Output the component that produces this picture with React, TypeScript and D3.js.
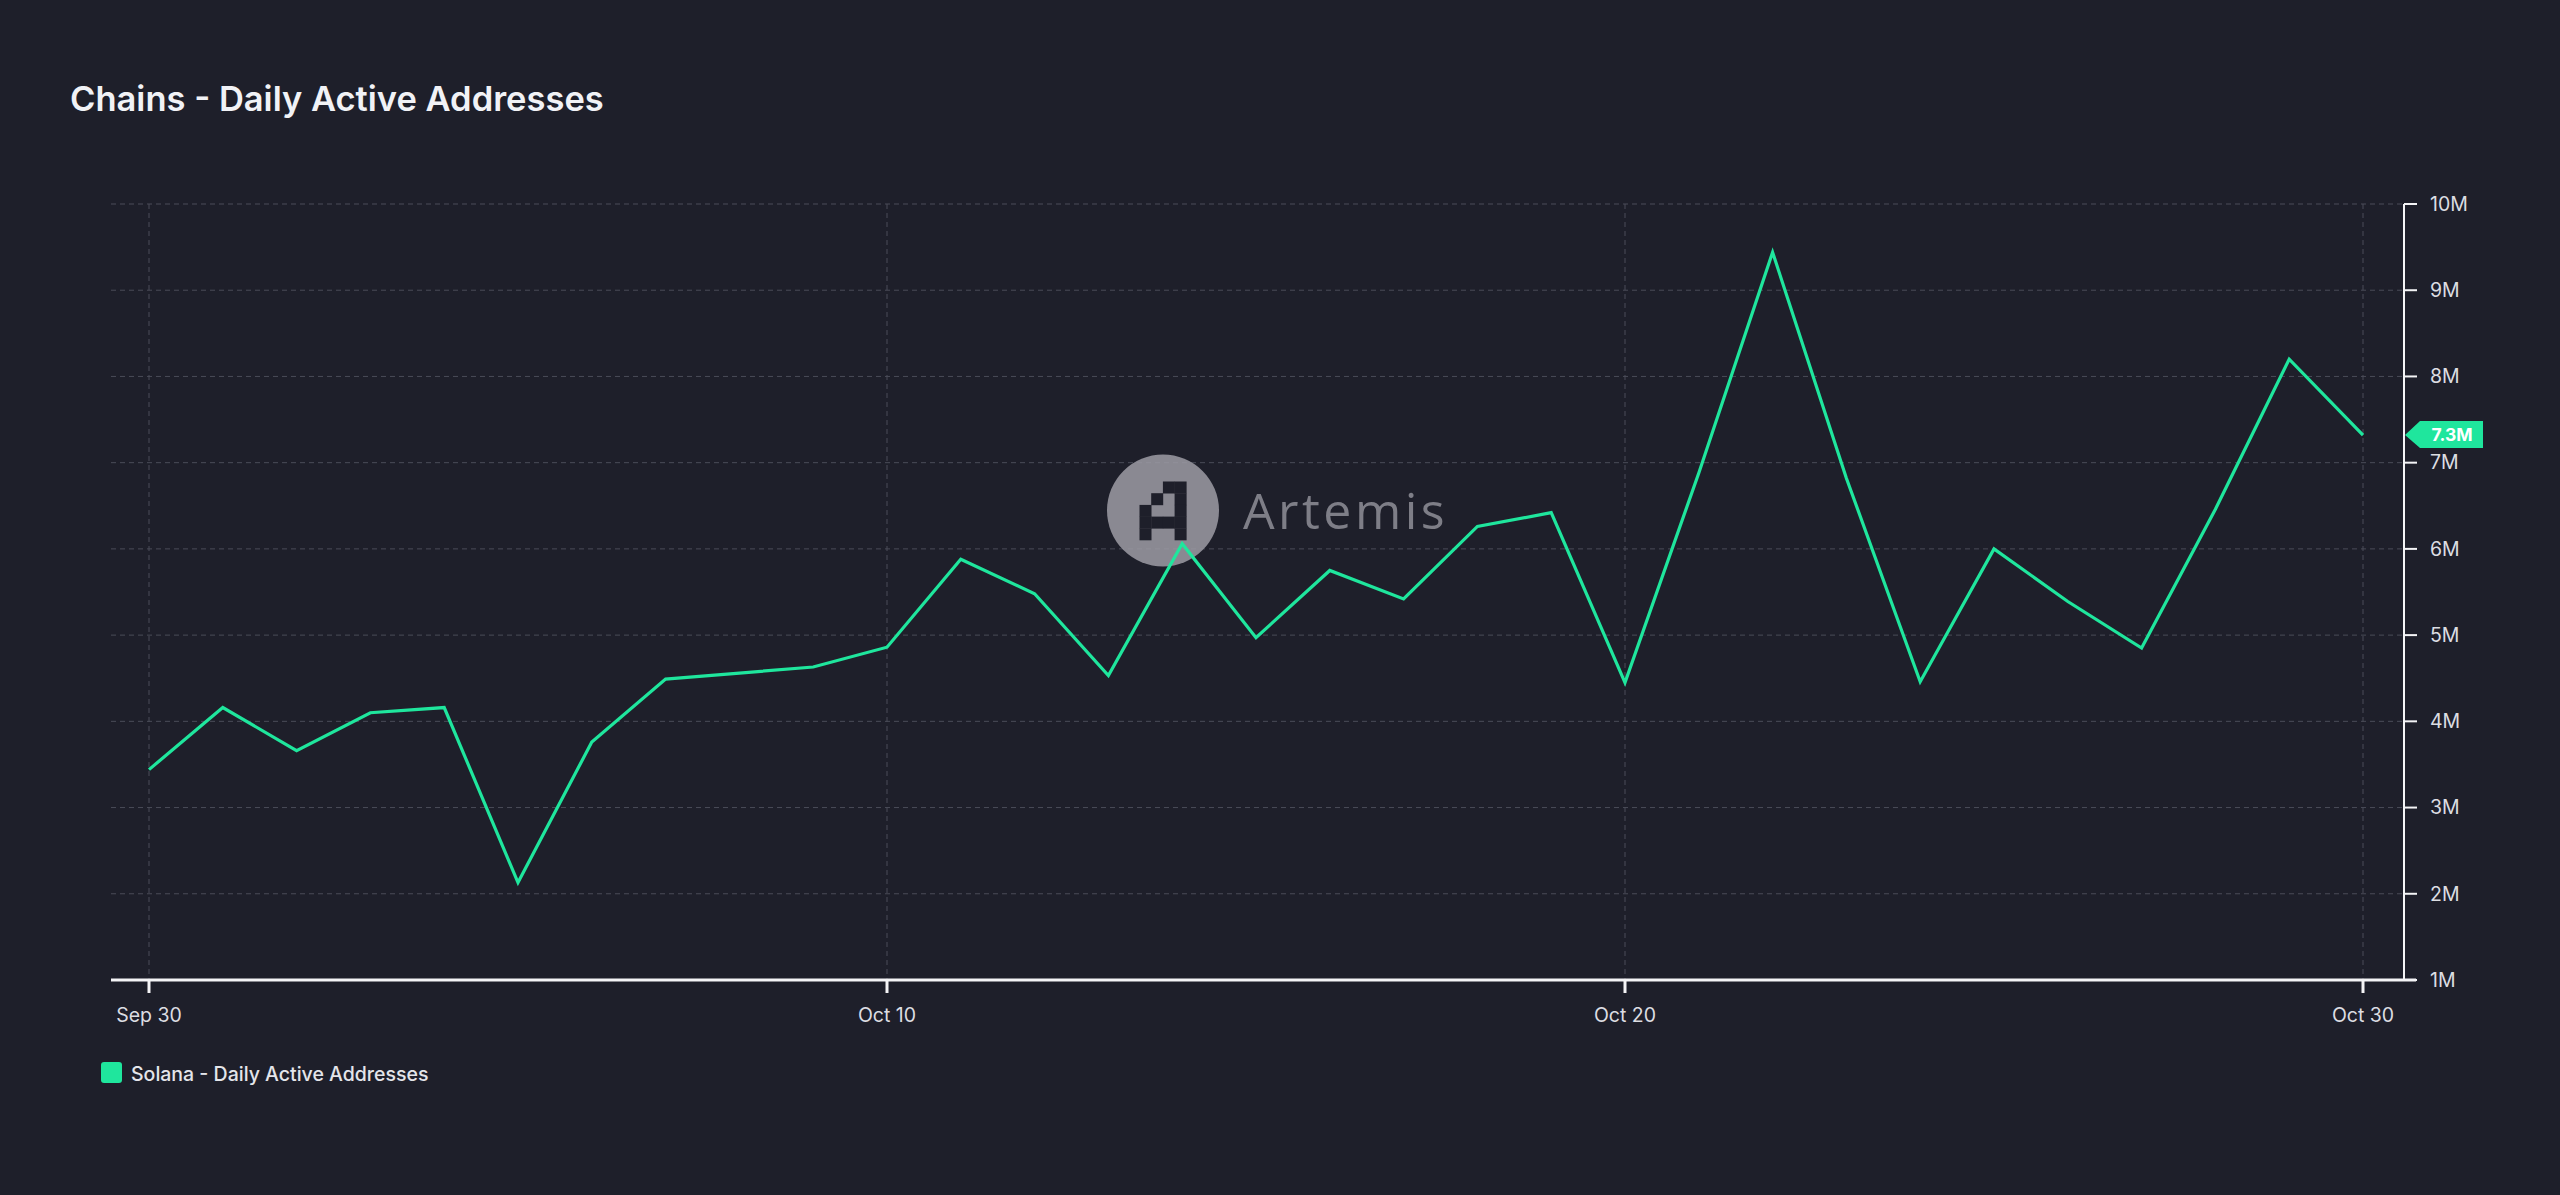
import * as d3 from 'd3'

const W = 2560
const H = 1195

const BG = '#1e1f2a'
const GREEN = '#1fe69d'
const GRID = '#4a4c58'

const TITLE = 'Chains - Daily Active Addresses'
const SERIES = 'Solana - Daily Active Addresses'

const DATES = [
  '2023-09-30', '2023-10-01', '2023-10-02', '2023-10-03', '2023-10-04', '2023-10-05',
  '2023-10-06', '2023-10-07', '2023-10-08', '2023-10-09', '2023-10-10', '2023-10-11',
  '2023-10-12', '2023-10-13', '2023-10-14', '2023-10-15', '2023-10-16', '2023-10-17',
  '2023-10-18', '2023-10-19', '2023-10-20', '2023-10-21', '2023-10-22', '2023-10-23',
  '2023-10-24', '2023-10-25', '2023-10-26', '2023-10-27', '2023-10-28', '2023-10-29',
  '2023-10-30',
]

// millions
const VALUES = [
  3.44, 4.16, 3.66, 4.10, 4.16, 2.13,
  3.76, 4.49, 4.56, 4.63, 4.86, 5.88,
  5.48, 4.53, 6.06, 4.97, 5.75, 5.42,
  6.26, 6.42, 4.45, 6.88, 9.44, 6.82,
  4.46, 6.00, 5.39, 4.85, 6.46, 8.20,
  7.32,
]

const X_TICKS = ['2023-09-30', '2023-10-10', '2023-10-20', '2023-10-30']
const Y_TICKS = [1, 2, 3, 4, 5, 6, 7, 8, 9, 10]

// pixel-art "A" of the watermark logo, rows top to bottom
const LOGO = [
  '..##',
  '.#.#',
  '#..#',
  '####',
  '#..#',
]

const parse = d3.utcParse('%Y-%m-%d')
const fmtDay = d3.utcFormat('%b %-d')

const PLOT = { left: 111, right: 2404, top: 204, bottom: 980 }

export default function App() {
  const dates = DATES.map(d => parse(d) as Date)
  const data = dates.map((d, i) => ({ date: d, v: VALUES[i] }))

  const x = d3.scaleUtc()
    .domain([dates[0], dates[dates.length - 1]])
    .range([149, 2363])
  const y = d3.scaleLinear().domain([1, 10]).range([PLOT.bottom, PLOT.top])

  const line = d3.line<{ date: Date; v: number }>()
    .x(d => x(d.date))
    .y(d => y(d.v))

  const last = data[data.length - 1]
  const lastY = y(last.v)
  const font = 'Inter, "Noto Sans", sans-serif'

  const cell = 11.7
  const logoX = 1139.5
  const logoY = 481.5

  return (
    <svg width={W} height={H} style={{ position: 'absolute', left: 0, top: 0, display: 'block' }}
      fontFamily={font}>
      <rect width={W} height={H} fill={BG} />

      <text x={70} y={111} fill="#f1f2f6" fontSize={34.5} fontWeight={600}>{TITLE}</text>

      {/* grid */}
      <g stroke={GRID} strokeWidth={1} strokeDasharray="5,4">
        {Y_TICKS.filter(t => t > 1).map(t => (
          <line key={t} x1={PLOT.left} x2={PLOT.right} y1={y(t)} y2={y(t)} />
        ))}
        {X_TICKS.map(t => (
          <line key={t} x1={x(parse(t) as Date)} x2={x(parse(t) as Date)} y1={PLOT.top} y2={PLOT.bottom} />
        ))}
      </g>

      {/* watermark */}
      <g opacity={0.85}>
        <circle cx={1163} cy={510.5} r={56} fill="#9d9ca5" />
        {LOGO.map((row, r) => row.split('').map((c, k) => c === '#' ? (
          <rect key={`${r}-${k}`} x={logoX + k * cell} y={logoY + r * cell}
            width={cell + 0.3} height={cell + 0.3} fill="#1e1f2a" />
        ) : null))}
        <text x={1243} y={529} fill="#8f8f98" fontSize={50} fontWeight={400}
          fontFamily='"Open Sans", Lato, sans-serif' letterSpacing={3.5}>Artemis</text>
      </g>

      {/* series */}
      <path d={line(data) ?? ''} fill="none" stroke={GREEN} strokeWidth={3.2}
        strokeLinejoin="miter" />

      {/* x axis */}
      <line x1={PLOT.left} x2={2416} y1={PLOT.bottom} y2={PLOT.bottom} stroke="#f4f4f6" strokeWidth={3} />
      {X_TICKS.map(t => {
        const d = parse(t) as Date
        return (
          <g key={t} transform={`translate(${x(d)},${PLOT.bottom})`}>
            <line y1={0} y2={13} stroke="#f4f4f6" strokeWidth={3} />
            <text y={42} textAnchor="middle" fill="#dcdde2" fontSize={19.5}>{fmtDay(d)}</text>
          </g>
        )
      })}

      {/* y axis */}
      <line x1={PLOT.right} x2={PLOT.right} y1={PLOT.top} y2={PLOT.bottom} stroke="#f4f4f6" strokeWidth={2} />
      {Y_TICKS.map(t => (
        <g key={t} transform={`translate(${PLOT.right},${y(t)})`}>
          <line x1={0} x2={13} stroke="#f4f4f6" strokeWidth={2} />
          <text x={26} dy="0.35em" fill="#dcdde2" fontSize={19.5}>{`${t}M`}</text>
        </g>
      ))}

      {/* last value marker */}
      <g transform={`translate(${PLOT.right + 1},${lastY})`}>
        <path d="M0,0 L15,-14 L78,-14 L78,13 L15,13 Z" fill={GREEN} />
        <text x={47} dy="0.36em" textAnchor="middle" fill="#ffffff" fontSize={17.5} fontWeight={700}>
          {`${last.v.toFixed(1)}M`}
        </text>
      </g>

      {/* legend */}
      <rect x={101} y={1062} width={21} height={21} rx={3} fill={GREEN} />
      <text x={131} y={1081} fill="#e4e5ea" fontSize={19.5} fontWeight={500}>{SERIES}</text>
    </svg>
  )
}
